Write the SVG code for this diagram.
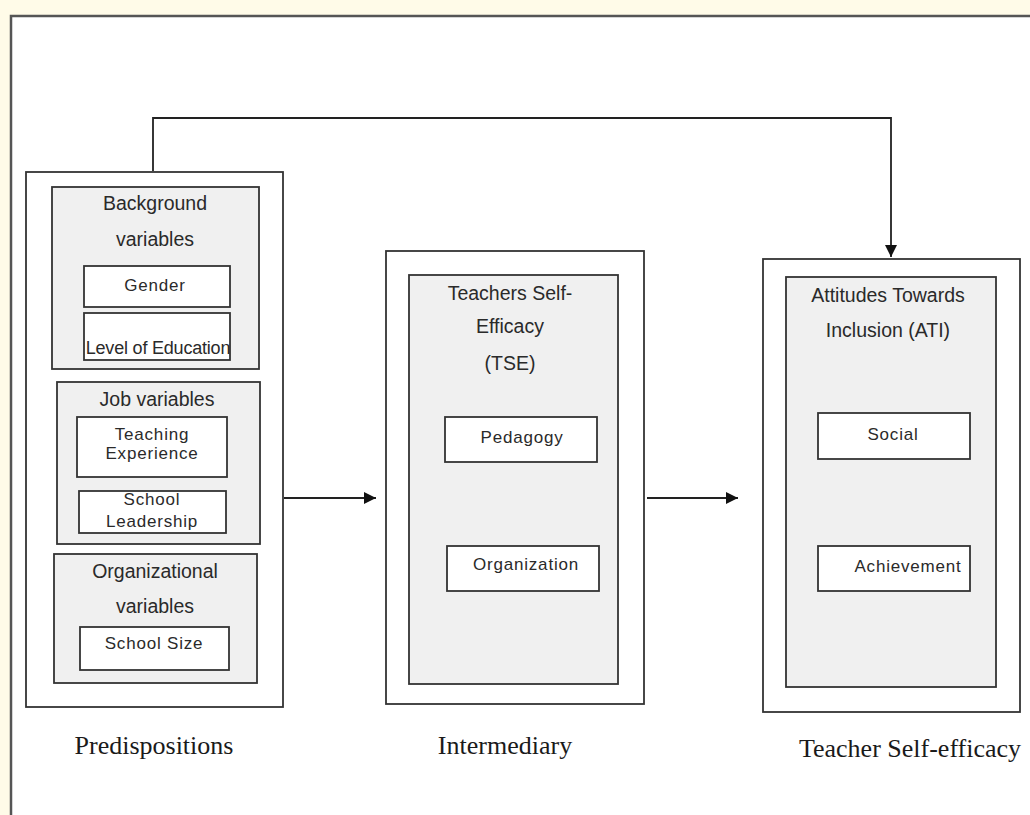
<svg xmlns="http://www.w3.org/2000/svg" width="1030" height="815" viewBox="0 0 1030 815">
<style>
.box{fill:#ffffff;stroke:#333333;stroke-width:1.8}
.grp{fill:#f0f0f0;stroke:#333333;stroke-width:1.8}
.h{font-family:"Liberation Sans",Arial,sans-serif;font-size:19.5px;fill:#2a2a2a;text-anchor:middle}
.t{font-family:"Liberation Sans",Arial,sans-serif;font-size:17px;fill:#2a2a2a;text-anchor:middle;letter-spacing:0.8px}
.s{font-family:"Liberation Serif","Times New Roman",serif;font-size:26px;fill:#1a1a1a;text-anchor:middle}
.c{fill:none;stroke:#222222;stroke-width:1.8}
</style>
<defs>
<marker id="ah" viewBox="0 0 10 10" refX="10" refY="5" markerWidth="13" markerHeight="12" markerUnits="userSpaceOnUse" orient="auto">
<path d="M0,0 L10,5 L0,10 z" fill="#111111"/>
</marker>
</defs>
<rect x="0" y="0" width="1030" height="815" fill="#fffbe8"/>
<rect x="11" y="16" width="1040" height="820" fill="#ffffff" stroke="#555555" stroke-width="2.5"/>

<g id="predispositions">
<rect class="box" x="26" y="172" width="257" height="535"/>
<text class="s" x="154" y="754">Predispositions</text>
</g>
<g id="background-variables">
<rect class="grp" x="52" y="187" width="207" height="182"/>
<text class="h" x="155" y="210">Background</text>
<text class="h" x="155" y="246">variables</text>
</g>
<g id="gender">
<rect class="box" x="84" y="266" width="146" height="41"/>
<text class="t" x="155" y="291">Gender</text>
</g>
<g id="level-of-education">
<rect class="box" x="84" y="313" width="146" height="47"/>
<text class="t" x="158" y="354" style="font-size:18px;letter-spacing:-0.2px">Level of Education</text>
</g>
<g id="job-variables">
<rect class="grp" x="57" y="382" width="203" height="162"/>
<text class="h" x="157" y="406">Job variables</text>
</g>
<g id="teaching-experience">
<rect class="box" x="77" y="417" width="150" height="60"/>
<text class="t" x="152" y="440">Teaching</text>
<text class="t" x="152" y="459">Experience</text>
</g>
<g id="school-leadership">
<rect class="box" x="79" y="491" width="147" height="42"/>
<text class="t" x="152" y="505">School</text>
<text class="t" x="152" y="527">Leadership</text>
</g>
<g id="organizational-variables">
<rect class="grp" x="54" y="554" width="203" height="129"/>
<text class="h" x="155" y="578">Organizational</text>
<text class="h" x="155" y="613">variables</text>
</g>
<g id="school-size">
<rect class="box" x="80" y="627" width="149" height="43"/>
<text class="t" x="154" y="649">School Size</text>
</g>

<g id="intermediary">
<rect class="box" x="386" y="251" width="258" height="453"/>
<text class="s" x="505" y="754">Intermediary</text>
</g>
<g id="tse">
<rect class="grp" x="409" y="275" width="209" height="409"/>
<text class="h" x="510" y="300">Teachers Self-</text>
<text class="h" x="510" y="333">Efficacy</text>
<text class="h" x="510" y="370">(TSE)</text>
</g>
<g id="pedagogy">
<rect class="box" x="445" y="417" width="152" height="45"/>
<text class="t" x="522" y="443">Pedagogy</text>
</g>
<g id="organization">
<rect class="box" x="447" y="546" width="152" height="45"/>
<text class="t" x="526" y="570">Organization</text>
</g>

<g id="teacher-self-efficacy">
<rect class="box" x="763" y="259" width="257" height="453"/>
<text class="s" x="910" y="757">Teacher Self-efficacy</text>
</g>
<g id="ati">
<rect class="grp" x="786" y="277" width="210" height="410"/>
<text class="h" x="888" y="302">Attitudes Towards</text>
<text class="h" x="888" y="337">Inclusion (ATI)</text>
</g>
<g id="social">
<rect class="box" x="818" y="413" width="152" height="46"/>
<text class="t" x="893" y="440">Social</text>
</g>
<g id="achievement">
<rect class="box" x="818" y="546" width="152" height="45"/>
<text class="t" x="908" y="572">Achievement</text>
</g>

<g id="connectors">
<path class="c" d="M284,498 L376,498" marker-end="url(#ah)"/>
<path class="c" d="M647,498 L738,498" marker-end="url(#ah)"/>
<path class="c" d="M153,171 L153,118 L891,118 L891,257" marker-end="url(#ah)"/>
</g>
</svg>
